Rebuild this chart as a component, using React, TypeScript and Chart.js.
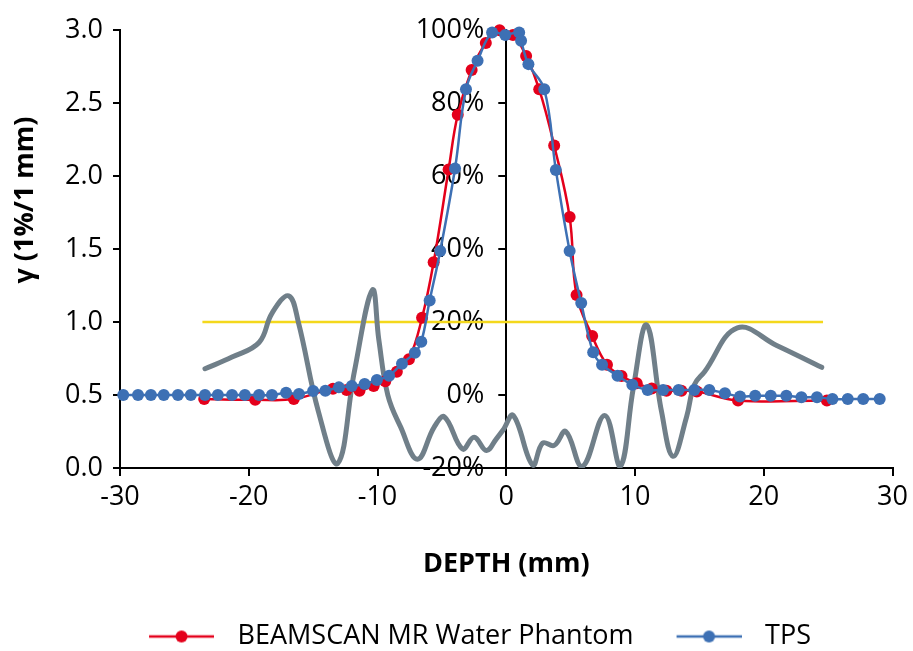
import React, { useEffect, useRef } from 'react';
import { Chart, registerables } from 'chart.js';

Chart.register(...registerables);

const FONT_FAMILY = "'Open Sans', 'Noto Sans', 'DejaVu Sans', sans-serif";

// Relative dose profile measured in the BEAMSCAN MR water phantom (depth in mm, dose in %)
const beamscanDepth = [
  -23.46, -19.5, -16.5, -13.46, -12.4, -11.4, -10.3, -9.4, -8.5, -7.56, -6.54, -5.64,
  -4.48, -3.77, -2.69, -1.59, -0.52, 0.52, 1.54, 2.56, 3.72, 4.92, 5.46, 6.67, 7.82,
  8.95, 10.13, 11.3, 12.44, 13.6, 14.8, 18.0, 24.9,
];
const beamscanDose = [
  -1.1, -1.3, -1.1, 1.7, 1.4, 1.2, 2.5, 3.8, 6.4, 9.8, 21.2, 36.4,
  61.8, 76.8, 89.1, 96.5, 100, 98.7, 92.9, 83.8, 68.4, 48.8, 27.4, 16.2, 8.3,
  5.2, 3.2, 1.8, 1.2, 1.2, 1.0, -1.5, -1.5,
];

// Relative dose profile from the treatment planning system
const tpsDepth = [
  -29.75, -28.6, -27.6, -26.6, -25.5, -24.5, -23.4, -22.4, -21.3, -20.3, -19.2, -18.2,
  -17.1, -16.1, -15.0, -14.05, -13.0, -12.0, -11.0, -10.05, -9.1, -8.1, -7.1, -6.6,
  -5.95, -5.13, -3.98, -3.13, -2.23, -1.1, -0.08, 1.0, 1.15, 1.72, 2.95, 3.85, 4.92,
  5.82, 6.75, 7.44, 8.64, 9.79, 10.98, 12.18, 13.38, 14.6, 15.77, 16.98, 18.15, 19.33,
  20.54, 21.75, 22.92, 24.13, 25.33, 26.52, 27.72, 29.0,
];
const tpsDose = [
  0, 0, 0, 0, 0, 0, 0, 0, 0, 0, 0, 0,
  0.6, 0.3, 1.1, 1.2, 2.1, 2.5, 3.0, 4.1, 5.3, 8.6, 11.6, 14.6,
  25.9, 39.5, 62.1, 83.8, 91.6, 99.4, 98.7, 99.4, 97.1, 90.7, 83.8, 61.7, 39.5,
  25.2, 11.7, 8.3, 5.3, 2.8, 1.4, 1.4, 1.4, 1.4, 1.4, 0.5, -0.4, -0.2,
  -0.2, -0.2, -0.6, -0.6, -1.1, -1.1, -1.1, -1.1,
];

// Gamma index (1%/1 mm) along the profile
const gammaDepth = [
  -23.4, -21.3, -19.2, -18.2, -16.9, -16.15, -14.6, -13.1, -11.8, -10.4, -9.9, -9.2,
  -8.2, -6.9, -5.6, -4.8, -3.4, -2.5, -1.54, -0.77, -0.25, 0.54, 2.05, 2.82, 3.72,
  4.62, 5.9, 7.64, 8.85, 9.87, 10.9, 12.05, 12.95, 14.0, 14.6, 15.4, 17.95, 21.0, 24.5,
];
const gammaValue = [
  0.68, 0.76, 0.86, 1.06, 1.18, 1.0, 0.39, 0.03, 0.66, 1.22, 0.88, 0.5,
  0.28, 0.06, 0.28, 0.35, 0.13, 0.21, 0.12, 0.2, 0.26, 0.36, 0.02, 0.17, 0.155,
  0.25, 0.01, 0.36, 0.01, 0.55, 0.98, 0.39, 0.08, 0.35, 0.57, 0.66, 0.96, 0.84, 0.69,
];

// Pass criterion γ = 1
const thresholdDepth = [-23.6, 24.6];
const thresholdValue = [1.0, 1.0];

// Axis ticks
const depthTicks = [-30, -20, -10, 0, 10, 20, 30];
const gammaTicks = [0, 0.5, 1, 1.5, 2, 2.5, 3];
const doseTicks = [-20, 0, 20, 40, 60, 80, 100];

const RED = 'rgb(228, 0, 27)';
const BLUE = 'rgb(61, 112, 180)';
const GRAY = 'rgb(112, 127, 137)';
const YELLOW = 'rgb(244, 216, 28)';
const INK = '#000';

const LEFT_MARGIN = 12;

const toPoints = (xs: number[], ys: number[]) => xs.map((x, i) => ({ x, y: ys[i] }));

// Legend swatch: a short line with a dot on it, drawn right of centre inside its box
function makeSwatch(color: string): HTMLCanvasElement {
  const c = document.createElement('canvas');
  const w = 90;
  const h = 14;
  c.width = w;
  c.height = h;
  const g = c.getContext('2d')!;
  const x0 = 25;
  const len = 65;
  g.strokeStyle = color;
  g.lineWidth = 2.5;
  g.beginPath();
  g.moveTo(x0, h / 2);
  g.lineTo(x0 + len, h / 2);
  g.stroke();
  g.fillStyle = color;
  g.beginPath();
  g.arc(x0 + len / 2, h / 2, 6, 0, Math.PI * 2);
  g.fill();
  return c;
}

// Places the dose axis on the depth = 0 line instead of at the chart edge;
// its box keeps some width to the left so the tick labels have room.
const DOSE_LABEL_ROOM = 110;
const doseAxisAtZeroDepth = {
  id: 'doseAxisAtZeroDepth',
  afterLayout(chart: any) {
    const dose = chart.scales.dose;
    const depth = chart.scales.x;
    if (!dose || !depth) return;
    const px = depth.getPixelForValue(0);
    dose.left = px - DOSE_LABEL_ROOM;
    dose.right = px;
    dose.width = DOSE_LABEL_ROOM;
    dose._gridLineItems = null;
    dose._labelItems = null;
  },
};

export default function App() {
  const canvasRef = useRef<HTMLCanvasElement>(null);

  useEffect(() => {
    const canvas = canvasRef.current;
    if (!canvas) return;
    const swatches = [makeSwatch(RED), makeSwatch(BLUE)];

    const tickFont = { family: FONT_FAMILY, size: 27 };
    const titleFont = { family: FONT_FAMILY, size: 27, weight: 'bold' as const };

    const chart = new Chart(canvas, {
      type: 'line',
      data: {
        datasets: [
          {
            label: 'BEAMSCAN MR Water Phantom',
            data: toPoints(beamscanDepth, beamscanDose),
            yAxisID: 'dose',
            borderColor: RED,
            backgroundColor: RED,
            borderWidth: 2.5,
            pointRadius: 6,
            pointHoverRadius: 6,
            pointBorderWidth: 0,
            tension: 0.4,
            order: 1,
            clip: false as any,
          },
          {
            label: 'TPS',
            data: toPoints(tpsDepth, tpsDose),
            yAxisID: 'dose',
            borderColor: BLUE,
            backgroundColor: BLUE,
            borderWidth: 2.5,
            pointRadius: 6,
            pointHoverRadius: 6,
            pointBorderWidth: 0,
            tension: 0.4,
            order: 0,
            clip: false as any,
          },
          {
            label: 'γ (1%/1 mm)',
            data: toPoints(gammaDepth, gammaValue),
            yAxisID: 'gamma',
            borderColor: GRAY,
            backgroundColor: GRAY,
            borderWidth: 5,
            borderCapStyle: 'round',
            borderJoinStyle: 'round',
            pointRadius: 0,
            tension: 0.4,
            order: 2,
          },
          {
            label: 'γ = 1',
            data: toPoints(thresholdDepth, thresholdValue),
            yAxisID: 'gamma',
            borderColor: YELLOW,
            backgroundColor: YELLOW,
            borderWidth: 2.5,
            pointRadius: 0,
            order: 3,
          },
        ],
      },
      options: {
        responsive: false,
        animation: false,
        devicePixelRatio: 1,
        events: [],
        layout: { padding: { top: 21, left: LEFT_MARGIN, right: 0, bottom: 0 } },
        plugins: {
          tooltip: { enabled: false },
          legend: {
            position: 'bottom',
            labels: {
              usePointStyle: true,
              pointStyleWidth: 110,
              padding: 8,
              color: INK,
              font: tickFont,
              generateLabels: (c: any) =>
                [0, 1].map((i) => {
                  const ds = c.data.datasets[i];
                  return {
                    text: ds.label,
                    pointStyle: swatches[i],
                    fillStyle: ds.borderColor,
                    strokeStyle: ds.borderColor,
                    fontColor: INK,
                    lineWidth: 0,
                    hidden: false,
                    datasetIndex: i,
                  };
                }),
            },
          },
        },
        scales: {
          x: {
            type: 'linear',
            min: depthTicks[0],
            max: depthTicks[depthTicks.length - 1],
            afterBuildTicks: (s: any) => {
              s.ticks = depthTicks.map((value) => ({ value }));
            },
            afterFit: (s: any) => {
              s.height = 147;
            },
            grid: { drawOnChartArea: false, tickLength: 8, color: INK, lineWidth: 2 },
            border: { display: true, color: INK, width: 2 },
            ticks: {
              color: INK,
              font: tickFont,
              padding: 5,
              maxRotation: 0,
              callback: (v: any) => String(v),
            },
            title: {
              display: true,
              text: 'DEPTH (mm)',
              color: INK,
              font: titleFont,
              padding: { top: 35, bottom: 34 },
            },
          },
          gamma: {
            type: 'linear',
            position: 'left',
            min: gammaTicks[0],
            max: gammaTicks[gammaTicks.length - 1],
            afterBuildTicks: (s: any) => {
              s.ticks = gammaTicks.map((value) => ({ value }));
            },
            afterFit: (s: any) => {
              s.width = 120 - LEFT_MARGIN;
            },
            grid: { drawOnChartArea: false, tickLength: 7, color: INK, lineWidth: 2 },
            border: { display: true, color: INK, width: 2 },
            ticks: {
              color: INK,
              font: tickFont,
              padding: 10,
              callback: (v: any) => Number(v).toFixed(1),
            },
            title: {
              display: true,
              text: ' '.repeat(14) + 'γ (1%/1 mm)',
              color: INK,
              font: titleFont,
              padding: { top: 9 - LEFT_MARGIN, bottom: 0 },
            },
          },
          dose: {
            type: 'linear',
            position: 'left',
            min: doseTicks[0],
            max: doseTicks[doseTicks.length - 1],
            afterBuildTicks: (s: any) => {
              s.ticks = doseTicks.map((value) => ({ value }));
            },
            afterFit: (s: any) => {
              s.width = 0;
            },
            grid: { drawOnChartArea: false, tickLength: 8, color: INK, lineWidth: 2 },
            border: { display: true, color: INK, width: 2 },
            ticks: {
              color: INK,
              font: tickFont,
              padding: 14,
              callback: (v: any) => `${v}%`,
            },
          },
        },
      },
      plugins: [doseAxisAtZeroDepth],
    } as any);

    return () => chart.destroy();
  }, []);

  return (
    <div
      style={{
        position: 'fixed',
        left: 0,
        top: 0,
        width: 913,
        height: 651,
        overflow: 'hidden',
        background: '#fff',
      }}
    >
      <canvas ref={canvasRef} width={913} height={660} style={{ display: 'block' }} />
    </div>
  );
}
